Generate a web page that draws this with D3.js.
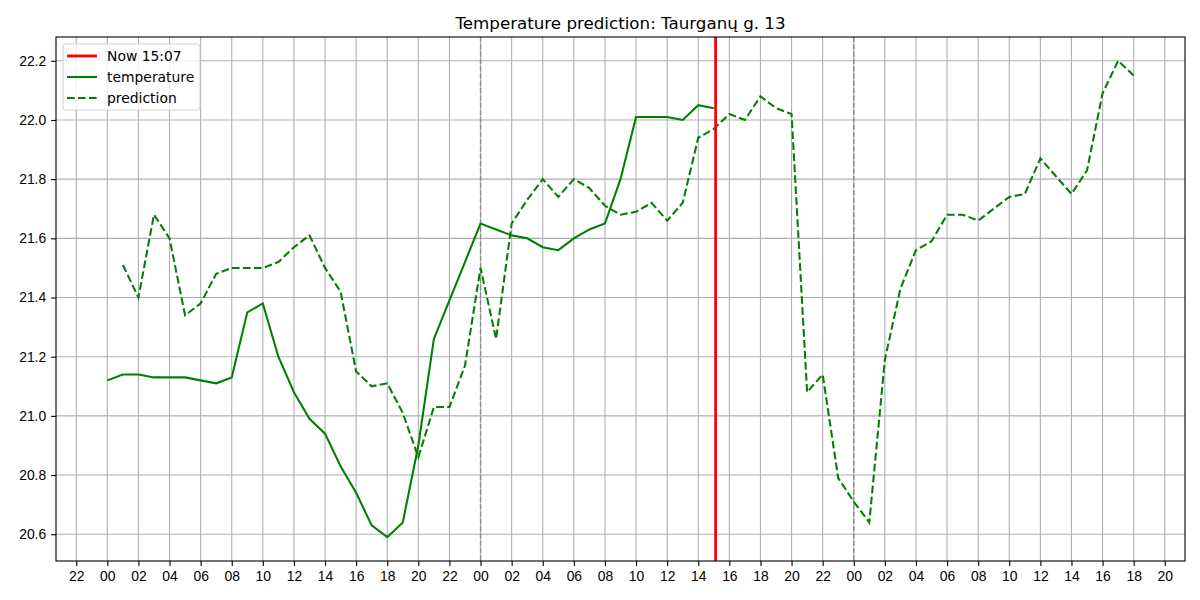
<!DOCTYPE html>
<html>
<head>
<meta charset="utf-8">
<script src="https://cdn.jsdelivr.net/npm/d3@7"></script>
<style>
  body { margin: 0; background: #fff; }
  svg { font-family: "DejaVu Sans", sans-serif; }
  .tick text { font-size: 13.9px; fill: #000; }
</style>
</head>
<body>
<script>
// readings, hourly, starting at day 1 00:00
const tempStartHour = 0;
const tempValues = [21.12, 21.14, 21.14, 21.13, 21.13, 21.13, 21.12, 21.11, 21.13, 21.35,
  21.38, 21.20, 21.08, 20.99, 20.94, 20.83, 20.74, 20.63, 20.59, 20.64,
  20.90, 21.26, 21.39, 21.52, 21.65, 21.63, 21.61, 21.60, 21.57, 21.56,
  21.60, 21.63, 21.65, 21.80, 22.01, 22.01, 22.01, 22.00, 22.05, 22.04];

// prediction, hourly, starting at day 1 01:00
const predStartHour = 1;
const predValues = [21.51, 21.40, 21.68, 21.60, 21.34, 21.38, 21.48, 21.50, 21.50, 21.50,
  21.52, 21.57, 21.61, 21.50, 21.42, 21.15, 21.10, 21.11, 21.01, 20.86,
  21.03, 21.03, 21.17, 21.50, 21.26, 21.65, 21.73, 21.80, 21.74, 21.80,
  21.77, 21.71, 21.68, 21.69, 21.72, 21.66, 21.72, 21.94, 21.97, 22.02,
  22.00, 22.08, 22.04, 22.02, 21.08, 21.14, 20.79, 20.71, 20.64, 21.19,
  21.43, 21.56, 21.59, 21.68, 21.68, 21.66, 21.70, 21.74, 21.75, 21.87,
  21.81, 21.75, 21.83, 22.09, 22.20, 22.15];

const midnightHours = [24, 48];
const nowHour = 39 + 7 / 60;
const nowLabel = "Now 15:07";
const yTicks = [20.6, 20.8, 21.0, 21.2, 21.4, 21.6, 21.8, 22.0, 22.2];
const title = "Temperature prediction: Taurganų g. 13";

const width = 1200, height = 600;
const margin = {top: 37, right: 15, bottom: 39, left: 56};
const day0 = new Date(2024, 0, 15, 0, 0);
const hourToDate = (h) => new Date(day0.getTime() + h * 3600 * 1000);

const temperature = tempValues.map((v, i) => ({t: hourToDate(tempStartHour + i), v: v}));
const prediction = predValues.map((v, i) => ({t: hourToDate(predStartHour + i), v: v}));

const svg = d3.select("body").append("svg")
  .attr("width", width)
  .attr("height", height);

// matplotlib-like 5% margins around the data
const allT = temperature.concat(prediction).map(d => d.t.getTime());
const allV = temperature.concat(prediction).map(d => d.v);
const tMin = d3.min(allT), tMax = d3.max(allT);
const vMin = d3.min(allV), vMax = d3.max(allV);
const tPad = (tMax - tMin) * 0.05, vPad = (vMax - vMin) * 0.05;

const x = d3.scaleTime()
  .domain([new Date(tMin - tPad), new Date(tMax + tPad)])
  .range([margin.left, width - margin.right]);
const y = d3.scaleLinear()
  .domain([vMin - vPad, vMax + vPad])
  .range([height - margin.bottom, margin.top]);

const xTicks = x.ticks(d3.timeHour.every(2));

// grid
const grid = svg.append("g");
grid.selectAll(".gx").data(xTicks).enter().append("line")
  .attr("x1", d => x(d)).attr("x2", d => x(d))
  .attr("y1", margin.top).attr("y2", height - margin.bottom)
  .attr("stroke", "#b0b0b0").attr("stroke-width", 1.1);
grid.selectAll(".gy").data(yTicks).enter().append("line")
  .attr("x1", margin.left).attr("x2", width - margin.right)
  .attr("y1", d => y(d)).attr("y2", d => y(d))
  .attr("stroke", "#b0b0b0").attr("stroke-width", 1.1);

// midnight markers
svg.selectAll(".midnight").data(midnightHours).enter().append("line")
  .attr("x1", d => x(hourToDate(d))).attr("x2", d => x(hourToDate(d)))
  .attr("y1", margin.top).attr("y2", height - margin.bottom)
  .attr("stroke", "#8a8a8a").attr("stroke-width", 1.4)
  .attr("stroke-dasharray", "5.1,2.2");

const line = d3.line().x(d => x(d.t)).y(d => y(d.v));

svg.append("path").datum(temperature)
  .attr("fill", "none").attr("stroke", "green")
  .attr("stroke-width", 2.08).attr("d", line);

svg.append("path").datum(prediction)
  .attr("fill", "none").attr("stroke", "green")
  .attr("stroke-width", 2.08).attr("stroke-dasharray", "7.7,3.3")
  .attr("d", line);

// now line
svg.append("line")
  .attr("x1", x(hourToDate(nowHour))).attr("x2", x(hourToDate(nowHour)))
  .attr("y1", margin.top).attr("y2", height - margin.bottom)
  .attr("stroke", "red").attr("stroke-width", 2.8);

// axes
const xAxis = d3.axisBottom(x).tickValues(xTicks)
  .tickFormat(d3.timeFormat("%H")).tickSize(4.9).tickPadding(4.9);
const yAxis = d3.axisLeft(y).tickValues(yTicks)
  .tickFormat(d3.format(".1f")).tickSize(4.9).tickPadding(4.9);

svg.append("g").attr("transform", `translate(0,${height - margin.bottom})`)
  .call(xAxis).call(g => g.select(".domain").remove());
svg.append("g").attr("transform", `translate(${margin.left},0)`)
  .call(yAxis).call(g => g.select(".domain").remove());
svg.selectAll(".tick line").attr("stroke-width", 1.1);

// frame
svg.append("rect")
  .attr("x", margin.left).attr("y", margin.top)
  .attr("width", width - margin.left - margin.right)
  .attr("height", height - margin.top - margin.bottom)
  .attr("fill", "none").attr("stroke", "#000").attr("stroke-width", 1.1);

// title
svg.append("text")
  .attr("x", (margin.left + width - margin.right) / 2)
  .attr("y", 29)
  .attr("text-anchor", "middle")
  .style("font-size", "16.7px")
  .text(title);

// legend
const legendItems = [
  {label: nowLabel, color: "red", dash: null, w: 2.8},
  {label: "temperature", color: "green", dash: null, w: 2.08},
  {label: "prediction", color: "green", dash: "7.7,3.3", w: 2.08}
];
const legend = svg.append("g").attr("transform", `translate(${margin.left + 7},${margin.top + 7})`);
legend.append("rect")
  .attr("width", 137).attr("height", 66).attr("rx", 3)
  .attr("fill", "rgba(255,255,255,0.8)").attr("stroke", "#d0d0d0");
const rows = legend.selectAll(".item").data(legendItems).enter().append("g")
  .attr("transform", (d, i) => `translate(0,${12 + i * 21})`);
rows.append("line")
  .attr("x1", 4).attr("x2", 34)
  .attr("stroke", d => d.color).attr("stroke-width", d => d.w)
  .attr("stroke-dasharray", d => d.dash);
rows.append("text")
  .attr("x", 44).attr("dy", "0.35em")
  .style("font-size", "13.9px")
  .text(d => d.label);
</script>
</body>
</html>
